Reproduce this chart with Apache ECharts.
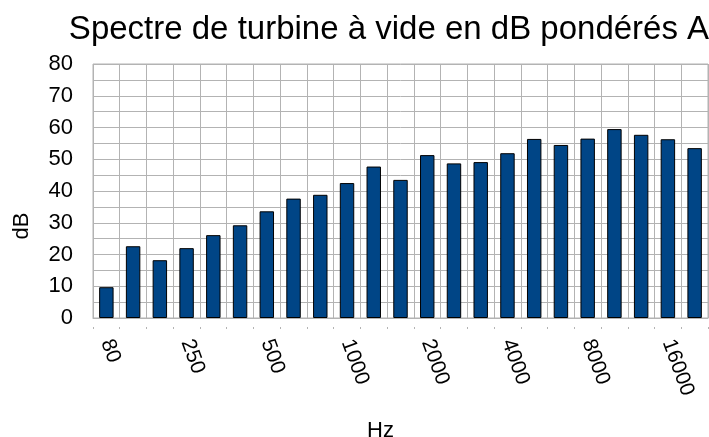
<!DOCTYPE html>
<html>
<head>
<meta charset="utf-8">
<script src="https://cdn.jsdelivr.net/npm/echarts@6/dist/echarts.min.js"></script>
<style>
	html, body { margin: 0; padding: 0; background: #fff; }
	#chart { width: 709px; height: 437px; }
</style>
</head>
<body>
<div id="chart"></div>
<script>
// bandes de tiers d'octave (seule une sur trois est étiquetée)
const bands = [
	'80', '160', '200', '250', '315', '400', '500', '630', '800', '1000', '1250', '1600',
	'2000', '2500', '3150', '4000', '5000', '6300', '8000', '10000', '12500', '16000', '20000'
]
const levels = [
	9.7, 22.6, 18.2, 22.0, 26.1, 29.2, 33.6, 37.6, 38.8, 42.5, 47.7, 43.5,
	51.3, 48.7, 49.1, 51.9, 56.4, 54.5, 56.5, 59.5, 57.7, 56.3, 53.5
]
const yTicks = [0, 10, 20, 30, 40, 50, 60, 70, 80]

const font = 'Liberation Sans'
const gridColor = '#b3b3b3'

const chart = echarts.init(document.getElementById('chart'))
chart.setOption({
	animation: false,
	title: {
		text: 'Spectre de turbine à vide en dB pondérés A',
		left: 384,
		top: 8,
		textAlign: 'center',
		textStyle: { fontFamily: font, fontSize: 33, fontWeight: 'normal', color: '#000' }
	},
	graphic: [
		{
			type: 'text',
			x: 22,
			y: 226,
			rotation: Math.PI / 2,
			style: {
				text: 'dB',
				fontFamily: font,
				fontSize: 22,
				fill: '#000',
				textAlign: 'center',
				textVerticalAlign: 'middle'
			}
		}
	],
	grid: {
		left: 93,
		right: 1,
		top: 64,
		bottom: 119,
		outerBoundsMode: 'none',
		containLabel: false,
		show: true,
		borderColor: gridColor,
		borderWidth: 1
	},
	xAxis: [
		{
			type: 'category',
			data: bands,
			name: 'Hz',
			nameLocation: 'middle',
			nameGap: 102,
			nameTextStyle: { fontFamily: font, fontSize: 22, color: '#000', padding: [0, 40, 0, 0] },
			axisLine: { lineStyle: { color: gridColor } },
			axisTick: { show: false },
			splitLine: { show: true, interval: 0, lineStyle: { color: gridColor } },
			axisLabel: {
				interval: 2,
				rotate: -70,
				margin: 22,
				fontFamily: font,
				fontSize: 21,
				color: '#000'
			}
		},
		{
			// petites graduations détachées sous l'axe
			type: 'category',
			data: bands,
			position: 'bottom',
			offset: 9,
			axisLine: { show: false },
			axisTick: { show: true, interval: 0, length: 2, lineStyle: { color: gridColor } },
			axisLabel: { show: false },
			splitLine: { show: false }
		}
	],
	yAxis: {
		type: 'value',
		min: yTicks[0],
		max: yTicks[yTicks.length - 1],
		interval: 10,
		axisLine: { show: false },
		axisTick: { show: false },
		axisLabel: { margin: 20, fontFamily: font, fontSize: 22, color: '#000' },
		splitLine: { show: true, lineStyle: { color: gridColor } },
		minorTick: { show: false, splitNumber: 2 },
		minorSplitLine: { show: true, lineStyle: { color: gridColor } }
	},
	series: [
		{
			type: 'bar',
			data: levels,
			barWidth: '54%',
			itemStyle: { color: '#004586', borderColor: '#000', borderWidth: 1 }
		}
	]
})
</script>
</body>
</html>
